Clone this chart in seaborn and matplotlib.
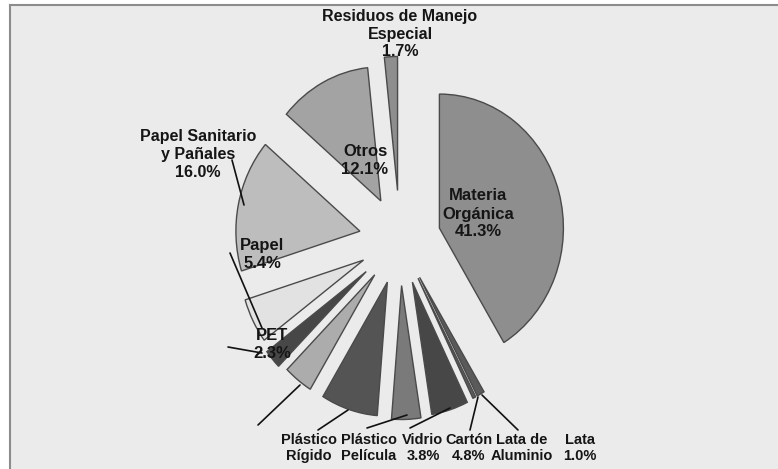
import matplotlib
matplotlib.use("Agg")
import matplotlib.pyplot as plt
import seaborn as sns

# === datos (porcentajes, en sentido horario desde arriba) ===
categorias = ["Materia Orgánica", "Lata", "Lata de Aluminio", "Cartón", "Vidrio",
              "Plástico Película", "Plástico Rígido", "PET", "Papel",
              "Papel Sanitario y Pañales", "Otros", "Residuos de Manejo Especial"]
porcentajes = [41.3, 1.0, 0.4, 4.8, 3.8, 7.4, 3.8, 2.3, 5.4, 16.0, 12.1, 1.7]
separacion = [0.33, 0.32, 0.32, 0.33, 0.34, 0.33, 0.33, 0.36, 0.33, 0.33, 0.33, 0.37]
grises = ["#8e8e8e", "#5a5a5a", "#5a5a5a", "#474747", "#7a7a7a", "#545454",
          "#acacac", "#474747", "#e2e2e2", "#bdbdbd", "#a3a3a3", "#8e8e8e"]

# etiquetas: texto, centro en pixeles y tamaño
etiquetas = ["Residuos de Manejo\nEspecial\n1.7%", "Otros\n12.1%",
             "Materia\nOrgánica\n41.3%", "Papel Sanitario\ny Pañales\n16.0%",
             "Papel\n5.4%", "PET\n2.3%", "Plástico\nRígido", "Plástico\nPelícula",
             "Vidrio\n3.8%", "Cartón\n4.8%", "Lata de\nAluminio", "Lata\n1.0%"]
pos_etiquetas = [(400, 34), (365, 160), (478, 214), (198, 154), (262, 254),
                 (272, 344), (309, 448), (369, 448), (423, 448), (469, 448),
                 (522, 448), (580, 448)]
tam_etiquetas = [11.5, 12, 12, 11.5, 12, 12, 10.5, 10.5, 10.5, 10.5, 10.5, 10.5]
# lineas guia (pixeles)
guias = [((232, 160), (244, 205)), ((230, 253), (262, 328)), ((228, 347), (262, 353)),
         ((300, 385), (258, 425)), ((348, 410), (318, 430)), ((407, 415), (367, 428)),
         ((450, 408), (410, 428)), ((478, 397), (470, 430)), ((482, 395), (518, 430))]

W, H = 778, 469
CX, CY = 400, 240     # centro del pastel (px)
RX, RY = 124, 134     # radios de la elipse (px)

sns.set_theme(style="white")
plt.rcParams['font.family'] = ['Liberation Sans Narrow', 'Liberation Sans', 'DejaVu Sans']

fig = plt.figure(figsize=(W / 100, H / 100), dpi=100)
fig.patch.set_facecolor("white")

# panel de fondo con borde arriba/izquierda
bg = fig.add_axes([10 / W, 0, 1 - 10 / W, 1 - 5 / H])
bg.set_facecolor("#ebebeb")
bg.set_xticks([])
bg.set_yticks([])
for s in ["right", "bottom"]:
    bg.spines[s].set_visible(False)
for s in ["left", "top"]:
    bg.spines[s].set_color("#8c8c8c")
    bg.spines[s].set_linewidth(1.5)

ax = fig.add_axes([0, 0, 1, 1])
ax.patch.set_alpha(0)
ax.pie(porcentajes, explode=separacion, colors=grises, startangle=90,
       counterclock=False, radius=1,
       wedgeprops=dict(edgecolor="#4a4a4a", linewidth=1.0))
ax.set_aspect("auto")
ax.set_xlim(-CX / RX, (W - CX) / RX)
ax.set_ylim(-(H - CY) / RY, CY / RY)
ax.axis("off")

def px(x, y):
    return x / W, 1 - y / H

for texto, (x, y), t in zip(etiquetas, pos_etiquetas, tam_etiquetas):
    fig.text(*px(x, y), texto, ha="center", va="center", fontsize=t,
             fontweight="bold", color="#151515", linespacing=1.25)

for (x0, y0), (x1, y1) in guias:
    a, b = px(x0, y0)
    c, d = px(x1, y1)
    fig.add_artist(plt.Line2D([a, c], [b, d], color="#111111", linewidth=1.2,
                              transform=fig.transFigure))

plt.savefig("out.png", dpi=100)
